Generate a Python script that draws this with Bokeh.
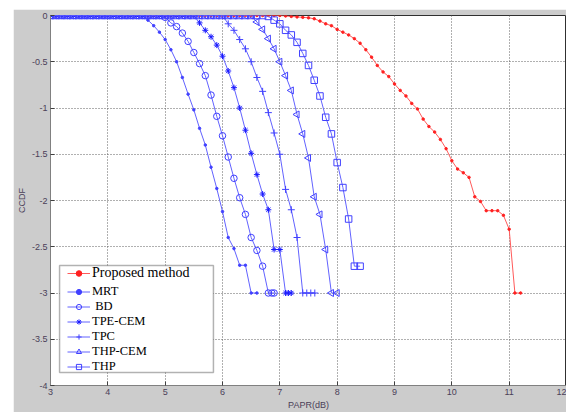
import numpy as np
from bokeh.plotting import figure
from bokeh.models import FixedTicker, Legend, LegendItem, BoxAnnotation
from bokeh.embed import file_html
from bokeh.resources import INLINE

# ---------------- data ----------------
x_ticks = [3, 4, 5, 6, 7, 8, 9, 10, 11, 12]
y_ticks = [0, -0.5, -1, -1.5, -2, -2.5, -3, -3.5, -4]
y_tick_labels = ["0", "-0.5", "-1", "-1.5", "-2", "-2.5", "-3", "-3.5", "-4"]

def flat_x(n):
    return [round(3.0 + 0.1 * i, 1) for i in range(n)]

# Proposed method
prop_x = flat_x(40) + [7.0, 7.1, 7.2, 7.3, 7.4, 7.5, 7.6, 7.7, 7.8, 7.9, 8.0, 8.1, 8.2, 8.3, 8.4,
                       8.5, 8.6, 8.7, 8.8, 8.9, 9.0, 9.1, 9.2, 9.3, 9.4, 9.5, 9.6, 9.7, 9.8, 9.9,
                       10.0, 10.1, 10.2, 10.3, 10.4, 10.5, 10.6, 10.7, 10.8, 10.9, 11.0, 11.1, 11.2]
prop_y = [0.0] * 40 + [0.0, -0.005, -0.01, -0.015, -0.02, -0.025, -0.035, -0.06, -0.09, -0.11,
                       -0.15, -0.18, -0.21, -0.25, -0.3, -0.37, -0.45, -0.54, -0.61, -0.66,
                       -0.74, -0.81, -0.87, -0.95, -1.01, -1.12, -1.2, -1.26, -1.34, -1.44,
                       -1.57, -1.66, -1.7, -1.75, -1.96, -2.01, -2.11, -2.11, -2.11, -2.16,
                       -2.31, -3.0, -3.0]

# MRT
mrt_x = flat_x(16) + [4.6, 4.7, 4.8, 4.9, 5.0, 5.1, 5.2, 5.3, 5.4, 5.5, 5.6, 5.7, 5.8, 5.9,
                      6.0, 6.1, 6.2, 6.3, 6.4, 6.5, 6.6]
mrt_y = [0.0] * 16 + [0.0, -0.05, -0.11, -0.18, -0.26, -0.37, -0.5, -0.67, -0.85, -1.02,
                      -1.22, -1.4, -1.64, -1.87, -2.12, -2.4, -2.52, -2.7, -2.7, -3.0, -3.0]

# BD
bd_x = flat_x(20) + [5.0, 5.1, 5.2, 5.3, 5.4, 5.5, 5.6, 5.7, 5.8, 5.9, 6.0, 6.1, 6.2, 6.3,
                     6.4, 6.5, 6.6, 6.7, 6.8, 6.86, 6.9]
bd_y = [0.0] * 20 + [-0.02, -0.08, -0.12, -0.19, -0.28, -0.4, -0.52, -0.65, -0.86, -1.09,
                     -1.3, -1.53, -1.76, -1.97, -2.15, -2.4, -2.54, -2.71, -3.0, -3.0, -3.0]

# TPE-CEM
tpe_x = flat_x(25) + [5.5, 5.6, 5.7, 5.8, 5.9, 6.0, 6.1, 6.2, 6.3, 6.4, 6.5, 6.6, 6.7, 6.8,
                      6.9, 7.0, 7.1, 7.15, 7.2]
tpe_y = [0.0] * 25 + [0.0, -0.08, -0.16, -0.23, -0.32, -0.44, -0.6, -0.78, -1.0, -1.24,
                      -1.49, -1.72, -1.93, -2.1, -2.53, -2.53, -3.0, -3.0, -3.0]

# TPC
tpc_x = flat_x(30) + [6.0, 6.1, 6.2, 6.3, 6.4, 6.5, 6.6, 6.7, 6.8, 6.9, 7.0, 7.1, 7.2, 7.3,
                      7.4, 7.47, 7.54, 7.61]
tpc_y = [0.0] * 30 + [0.0, -0.09, -0.16, -0.26, -0.36, -0.5, -0.67, -0.82, -1.05, -1.27,
                      -1.5, -1.88, -2.1, -2.4, -3.0, -3.0, -3.0, -3.0]

# THP-CEM
thpc_x = flat_x(35) + [6.5, 6.6, 6.7, 6.8, 6.9, 7.0, 7.1, 7.2, 7.3, 7.4, 7.5, 7.6, 7.7, 7.8,
                       7.9, 8.0]
thpc_y = [0.0] * 35 + [0.0, -0.07, -0.15, -0.25, -0.36, -0.5, -0.65, -0.81, -1.07, -1.28,
                       -1.54, -1.96, -2.15, -2.53, -3.0, -3.0]

# THP
thp_x = flat_x(37) + [6.7, 6.8, 6.9, 7.0, 7.1, 7.2, 7.3, 7.4, 7.5, 7.6, 7.7, 7.8, 7.9, 8.0,
                      8.1, 8.2, 8.3, 8.4]
thp_y = [0.0] * 37 + [0.0, -0.01, -0.05, -0.09, -0.16, -0.21, -0.29, -0.41, -0.54, -0.7,
                      -0.87, -1.1, -1.28, -1.59, -1.86, -2.2, -2.71, -2.71]

# ---------------- figure ----------------
GRAY = "#cccccc"
BLUE_L = "#6262ff"
BLUE_M = "#4040ff"
RED_L = "#ff5a5a"
RED_M = "#ff2020"

p = figure(width=553, height=403, output_backend="svg", toolbar_location=None,
           x_range=(3, 12), y_range=(-4, 0),
           min_border_left=30, min_border_right=0, min_border_top=6, min_border_bottom=20)
p.margin = (9, 0, 0, 13)
p.background_fill_color = "white"
p.border_fill_color = GRAY
p.outline_line_color = "#303030"
p.outline_line_width = 1

p.xaxis.ticker = FixedTicker(ticks=x_ticks)
p.yaxis.ticker = FixedTicker(ticks=y_ticks)
p.yaxis.major_label_overrides = {t: s for t, s in zip(y_ticks, y_tick_labels)}

for ax in (p.xaxis[0], p.yaxis[0]):
    ax.major_tick_in = 4
    ax.major_tick_out = 0
    ax.minor_tick_line_color = None
    ax.axis_line_color = "#808080"
    ax.major_tick_line_color = "#404040"
    ax.major_label_text_font = "Liberation Sans"
    ax.major_label_text_font_size = "9px"
    ax.major_label_text_color = "#4a4058"
    ax.axis_label_text_font = "Liberation Sans"
    ax.axis_label_text_font_size = "9px"
    ax.axis_label_text_font_style = "normal"
    ax.axis_label_text_color = "#4a4058"

p.xaxis.major_label_standoff = 3
p.yaxis.major_label_standoff = 3
p.xaxis.axis_label = "PAPR(dB)"
p.yaxis.axis_label = "CCDF"
p.xaxis.axis_label_standoff = 2
p.yaxis.axis_label_standoff = 2

p.xgrid.ticker = FixedTicker(ticks=x_ticks)
p.ygrid.ticker = FixedTicker(ticks=y_ticks)
for g in (p.xgrid[0], p.ygrid[0]):
    g.grid_line_color = "#606060"
    g.grid_line_dash = "1 2"
    g.grid_line_width = 1

# legend frame (white box with black border), in data units
legend_box = BoxAnnotation(left=3.158, right=5.842, top=-2.703, bottom=-3.859,
                           fill_color="white", fill_alpha=1.0,
                           line_color="black", line_width=1.5)
p.add_layout(legend_box)

items = []

def series(label, xs, ys, lcol, mcol, marker, size, fill, angle=0.0, lw=1.0):
    lr = p.line(xs, ys, line_color=lcol, line_width=lw)
    sr = p.scatter(xs, ys, marker=marker, size=size, line_color=mcol,
                   fill_color=(mcol if fill else None), line_width=1, angle=angle)
    items.append(LegendItem(label=label, renderers=[lr, sr]))

series("Proposed method", prop_x, prop_y, RED_L, RED_M, "circle", 2.5, True)
series("MRT", mrt_x, mrt_y, BLUE_L, BLUE_M, "circle", 2.5, True)
series(" BD", bd_x, bd_y, BLUE_L, BLUE_M, "circle", 6.5, False)
series("TPE-CEM", tpe_x, tpe_y, BLUE_L, "#1a1aff", "asterisk", 6, True)
series("TPC", tpc_x, tpc_y, BLUE_L, BLUE_M, "cross", 7, False)
series("THP-CEM", thpc_x, thpc_y, BLUE_L, BLUE_M, "triangle", 7, False, angle=np.pi / 2)
series("THP", thp_x, thp_y, BLUE_L, BLUE_M, "square", 6.5, False)

def styled_legend(its, loc, fsize, lh, sp):
    lg = Legend(items=its, location=loc)
    lg.label_text_font = "Liberation Serif"
    lg.label_text_font_size = fsize
    lg.label_text_color = "black"
    lg.label_height = lh
    lg.glyph_height = lh
    lg.glyph_width = 23
    lg.label_standoff = 2
    lg.spacing = sp
    lg.padding = 0
    lg.margin = 0
    lg.border_line_color = None
    lg.background_fill_alpha = 0.0
    return lg

p.add_layout(styled_legend(items[:1], (17, 104), "14px", 14, 0), "center")
p.add_layout(styled_legend(items[1:], (17, 11), "12.5px", 13, 0), "center")

open("out.html", "w").write(file_html(p, INLINE))
